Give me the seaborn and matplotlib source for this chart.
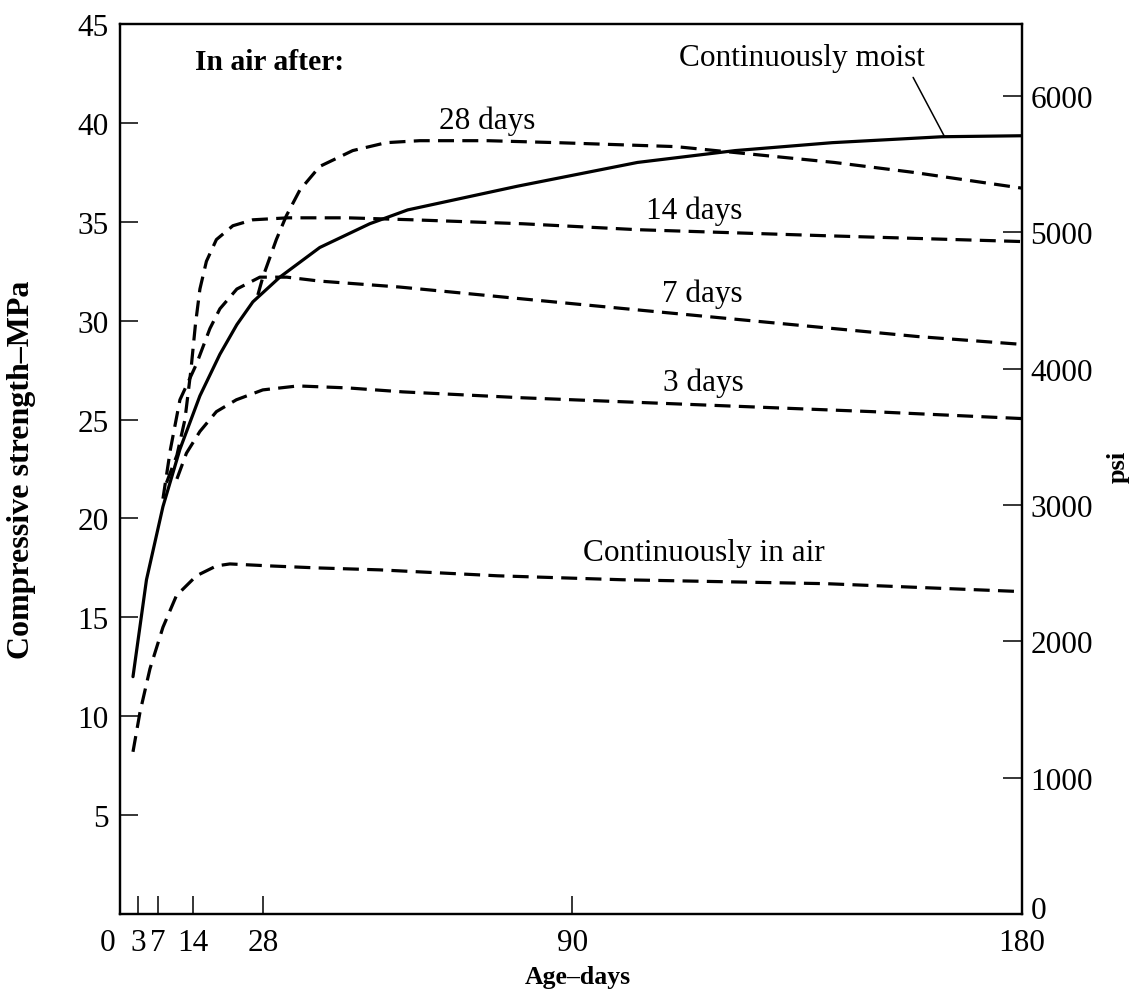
import numpy as np
import pandas as pd
import matplotlib
matplotlib.use("Agg")
import matplotlib.pyplot as plt
import seaborn as sns

# ---------------- data ----------------
moist_days = [2, 4.7, 8, 11.4, 15.4, 19.4, 22.8, 26, 31.4, 39.4, 49.4, 57, 79, 103, 122.6, 142, 164, 180]
moist_mpa = [12.0, 16.9, 20.6, 23.5, 26.2, 28.3, 29.8, 30.95, 32.2, 33.7, 34.9, 35.6, 36.8, 38.0, 38.6, 39.0, 39.3, 39.35]

d28_days = [27.0, 28, 30.7, 32.7, 35.4, 39.4, 46, 52.7, 59.4, 73, 87, 110.7, 122.6, 142.4, 158.2, 180]
d28_mpa = [31.3, 32.2, 34.1, 35.3, 36.6, 37.8, 38.6, 39.0, 39.1, 39.1, 39.0, 38.8, 38.5, 38.0, 37.5, 36.7]

d14_days = [8.7, 10.8, 12.4, 13.6, 14.5, 15.4, 16.7, 18.7, 22, 26, 33, 45, 58, 80, 103, 140, 180]
d14_mpa = [21.8, 23.2, 25.0, 27.5, 29.8, 31.6, 33.0, 34.1, 34.8, 35.1, 35.2, 35.2, 35.1, 34.9, 34.6, 34.3, 34.0]

d7_days = [8, 9.5, 11.4, 14.7, 17.4, 19.4, 22.8, 27.4, 32.8, 39.4, 55.4, 80, 109, 134, 159, 180]
d7_mpa = [21.0, 23.5, 26.0, 27.8, 29.6, 30.6, 31.6, 32.2, 32.2, 32.0, 31.7, 31.1, 30.4, 29.8, 29.2, 28.8]

d3_days = [10.8, 12.7, 15.4, 18.7, 22.7, 28, 35, 45, 56, 80, 110, 150, 180]
d3_mpa = [22.0, 23.3, 24.4, 25.4, 26.0, 26.5, 26.7, 26.6, 26.4, 26.1, 25.8, 25.4, 25.05]

air_days = [2, 3.4, 5.4, 8, 10.7, 14.7, 18.7, 21.4, 29.4, 38.8, 51.4, 75, 100, 141, 180]
air_mpa = [8.2, 10.2, 12.4, 14.5, 16.1, 17.1, 17.6, 17.7, 17.6, 17.5, 17.4, 17.1, 16.9, 16.7, 16.3]

x_ticks = [3, 7, 14, 28, 90, 180]
x_first_label = "0"
y_ticks = [5, 10, 15, 20, 25, 30, 35, 40, 45]
psi_ticks = [0, 1000, 2000, 3000, 4000, 5000, 6000]
MPA_TO_PSI = 145.038

curve_labels = ["28 days", "14 days", "7 days", "3 days", "Continuously in air"]
label_pos_day = [73, 114.3, 116, 116.3, 116.3]
label_pos_mpa = [40.15, 35.6, 31.4, 26.9, 18.3]

# ---------------- long-form table ----------------
frames = []
for name, d, v in [("moist", moist_days, moist_mpa), ("28", d28_days, d28_mpa),
                   ("14", d14_days, d14_mpa), ("7", d7_days, d7_mpa),
                   ("3", d3_days, d3_mpa), ("air", air_days, air_mpa)]:
    frames.append(pd.DataFrame({"day": d, "mpa": v, "curve": name}))
df = pd.concat(frames, ignore_index=True)

# ---------------- style ----------------
sns.set_theme(style="ticks")
plt.rcParams["font.family"] = ["Liberation Serif", "DejaVu Serif"]
plt.rcParams.update({
    "axes.linewidth": 1.6, "axes.edgecolor": "black", "text.color": "black",
    "axes.labelcolor": "black", "xtick.color": "black", "ytick.color": "black",
})
FS = 22.5

fig = plt.figure(figsize=(11.35, 9.95), dpi=100)
ax = fig.add_axes([120 / 1135, 80 / 995, 902 / 1135, 890 / 995])

palette = {k: "black" for k in df["curve"].unique()}
dash = (5, 2.6)
dashes = {"moist": "", "28": dash, "14": dash, "7": dash, "3": dash, "air": dash}
sns.lineplot(data=df, x="day", y="mpa", hue="curve", style="curve",
             palette=palette, dashes=dashes, estimator=None, legend=False,
             lw=2.3, ax=ax)

ax.set_xlim(-0.6, 180)
ax.set_ylim(0, 45)
ax.set_xlabel("")
ax.set_ylabel("")

ax.set_xticks(x_ticks)
ax.set_xticklabels([str(t) for t in x_ticks])
ax.set_yticks(y_ticks)
ax.set_yticklabels([str(t) for t in y_ticks])
ax.tick_params(axis="both", direction="in", length=13, width=1.1,
               labelsize=FS, colors="black")
ax.tick_params(axis="x", pad=10)
ax.tick_params(axis="y", pad=8)
# the "0" label sits left of the axis corner in the reference
ax.annotate(x_first_label, xy=(0, 0), xycoords=("data", "axes fraction"),
            xytext=(-11, -10), textcoords="offset points",
            ha="center", va="top", fontsize=FS)

ax2 = ax.twinx()
ax2.set_ylim(0, 45 * MPA_TO_PSI)
ax2.set_yticks(psi_ticks)
ax2.set_yticklabels([""] + [str(t) for t in psi_ticks[1:]])
ax2.tick_params(axis="y", direction="in", length=14, width=1.1,
                labelsize=FS, pad=6, colors="black")
# psi "0" label placed slightly above the corner, as in the reference
ax2.annotate(str(psi_ticks[0]), xy=(1, psi_ticks[0]),
             xycoords=("axes fraction", "data"), xytext=(6, 2.5),
             textcoords="offset points", ha="left", va="center", fontsize=FS)
for a in (ax, ax2):
    for s in a.spines.values():
        s.set_visible(True)
        s.set_color("black")
        s.set_linewidth(1.6)

# in-plot labels
for lab, xd, ym in zip(curve_labels, label_pos_day, label_pos_mpa):
    ax.text(xd, ym, lab, ha="center", va="center", fontsize=FS)
ax.text(136, 43.3, "Continuously moist", ha="center", va="center", fontsize=FS)
ax.annotate("", xy=(164.5, 39.3), xytext=(158.2, 42.3),
            arrowprops=dict(arrowstyle="-", lw=1.1, color="black",
                            shrinkA=0, shrinkB=0))
ax.text(14.4, 43.1, "In air after:", ha="left", va="center",
        fontsize=21.3, fontweight="bold")

# axis titles
fig.text(22 / 1135, 1 - 470 / 995, "Compressive strength\u2013MPa", rotation=90,
         ha="center", va="center", fontsize=23, fontweight="bold")
fig.text(578 / 1135, 1 - 978 / 995, "Age\u2013days", ha="center", va="center",
         fontsize=18.5, fontweight="bold")
fig.text(1118 / 1135, 1 - 467 / 995, "psi", rotation=90, ha="center",
         va="center", fontsize=19, fontweight="bold")

fig.savefig("out.png", dpi=100, facecolor="white")
